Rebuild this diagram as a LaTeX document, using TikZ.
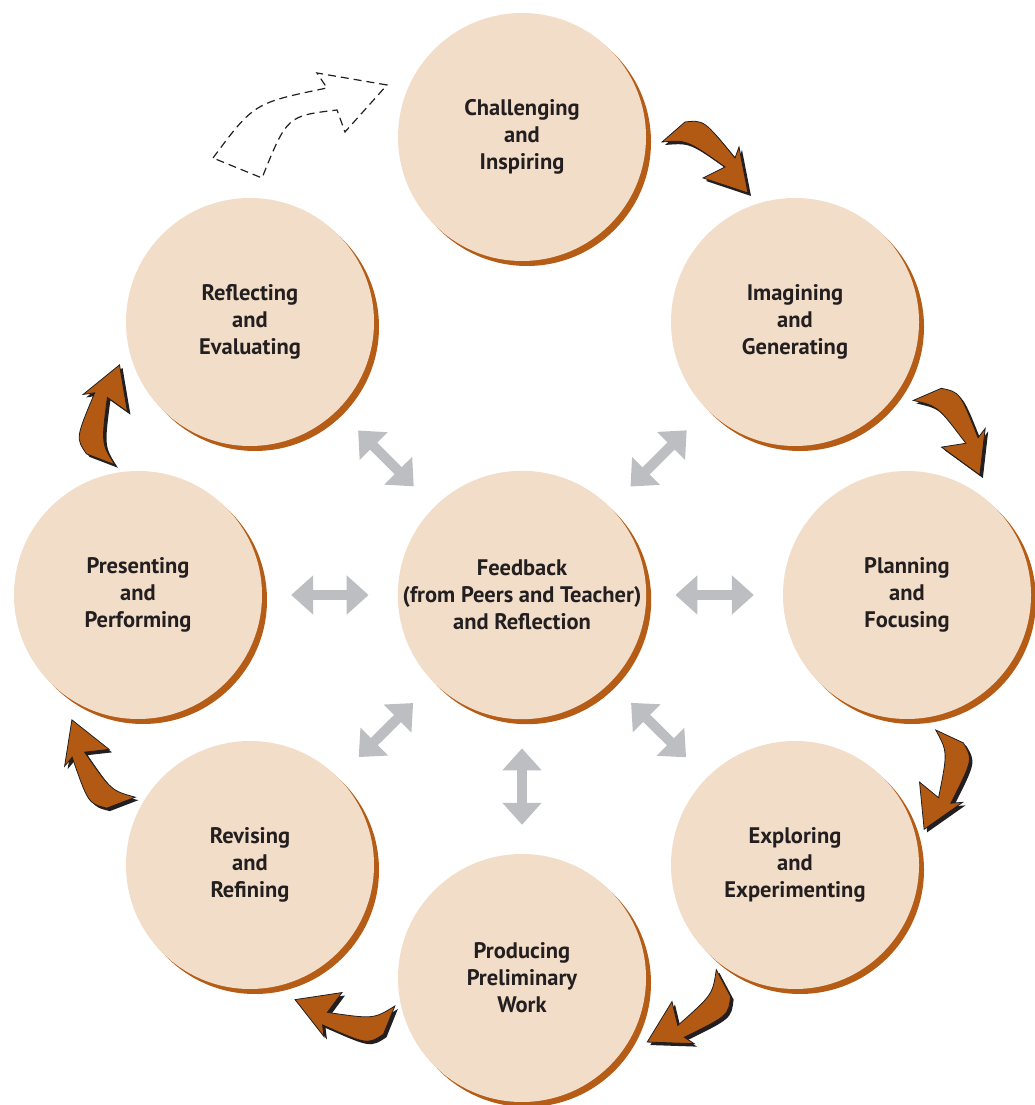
\documentclass[tikz,border=0pt]{standalone}
\usepackage{fontspec}
\setmainfont{PT Sans}
\usetikzlibrary{arrows.meta,shadows}
\definecolor{stagefill}{RGB}{242,221,201}
\definecolor{rimbrown}{RGB}{181,92,22}
\definecolor{turnbrown}{RGB}{178,90,20}
\definecolor{linkgrey}{RGB}{188,190,193}
\definecolor{inkdark}{RGB}{35,31,32}

\tikzset{
    turn outline/.style={insert path={(-25,40) .. controls (-6,42) .. (25,4) -- (29,15) -- (38,-31) -- (-7,-16) -- (15,-5) .. controls (-23,22) .. (-48,20) -- cycle}}
}

\begin{document}
\begin{tikzpicture}[x=1pt, y=1pt,
    stage/.style={circle, fill=stagefill, minimum size=248pt, inner sep=0pt, align=center, text=inkdark, font=\bfseries\fontsize{22.5}{27}\selectfont, drop shadow={shadow xshift=5pt, shadow yshift=-5pt, fill=rimbrown, opacity=1}},
    twoway/.style={draw=linkgrey, line width=10pt, {Triangle[length=22pt,width=38pt]}-{Triangle[length=22pt,width=38pt]}, shorten <=29pt, shorten >=29pt}
]
    \useasboundingbox (0,0) rectangle (1035,1105);

    \node[stage] (chal) at (522,968) {Challenging\\and\\Inspiring};
    \node[stage] (imag) at (795,783) {Imagining\\and\\Generating};
    \node[stage] (plan) at (907,510) {Planning\\and\\Focusing};
    \node[stage] (expl) at (795,240) {Exploring\\and\\Experimenting};
    \node[stage] (prod) at (522,127) {Producing\\Preliminary\\Work};
    \node[stage] (revi) at (250,240) {Revising\\and\\Refining};
    \node[stage] (pres) at (138,510) {Presenting\\and\\Performing};
    \node[stage] (refl) at (250,783) {Reflecting\\and\\Evaluating};
    \node[stage] (feed) at (522,510) {Feedback\\(from Peers and Teacher)\\and Reflection};

    % feedback links
    \foreach \s in {refl,imag,pres,plan,revi,expl,prod}
        \draw[twoway] (feed) -- (\s);

    % cycle arrows
    \foreach \x/\y/\r in {710/943/0, 953/671/-17.6, 937/323/-66, 686/93/-103, 343/95/207, 97/343/160, 110/692/118} {
        \fill[inkdark, shift={(\x+3,\y-3)}, rotate=\r, turn outline];
        \filldraw[fill=turnbrown, draw=inkdark, line width=0.8pt, shift={(\x,\y)}, rotate=\r, turn outline];
    }
    % dashed return arrow
    \draw[inkdark, line width=1.2pt, dash pattern=on 8pt off 5pt]
        (213,947) .. controls (254,1002) .. (327,1017) -- (317,1032) -- (387,1020)
        -- (345,973) -- (337,995) .. controls (287,989) .. (262,927) -- cycle;
\end{tikzpicture}
\end{document}
